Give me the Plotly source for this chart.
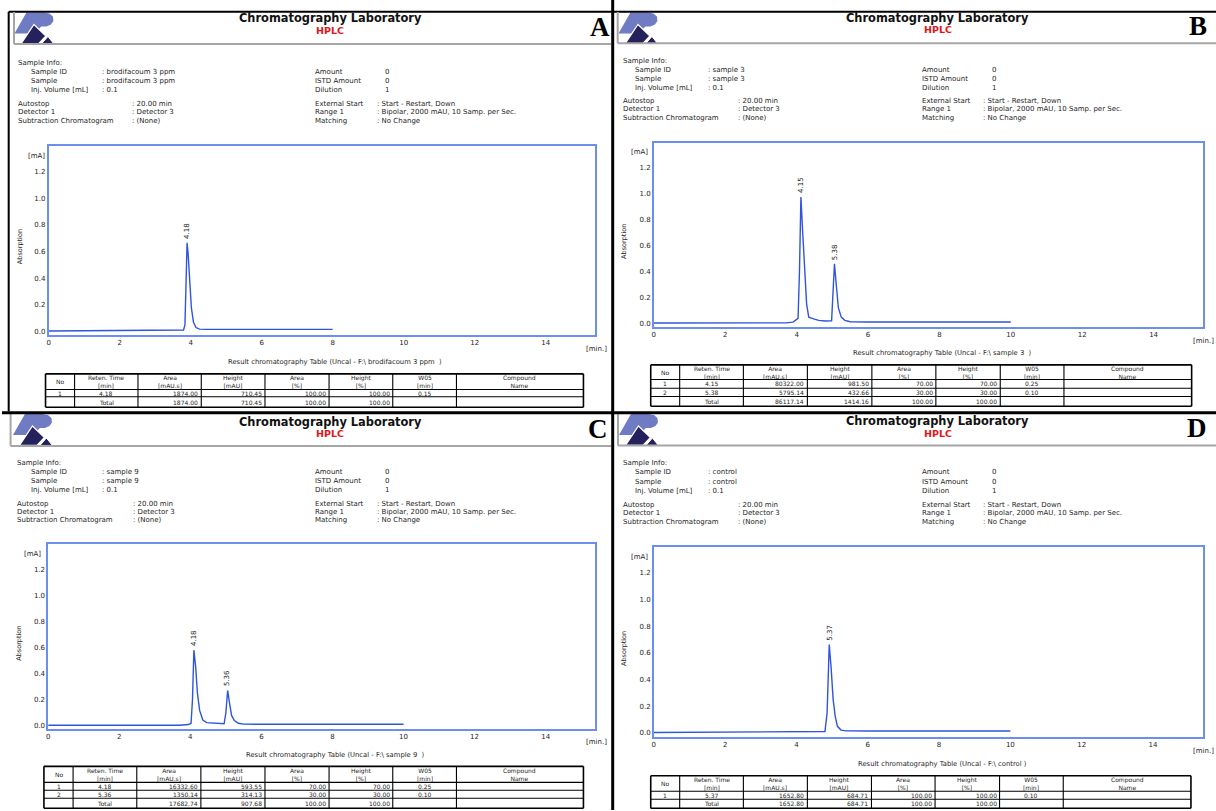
import plotly.graph_objects as go

W, H = 1216, 811
FONT = "DejaVu Sans"
SERIF = "Liberation Serif"
FRAME = "#6b8ef0"
TRACE = "#2f54dd"
GRAY = "#a6a6a6"
INK = "#1e1e1e"

# ---------------- chromatograms: time [min] / absorption [mA] ----------------
A_time = [0.0, 2.0, 3.5, 3.80, 3.84, 3.87, 3.90, 3.93, 3.97, 4.02, 4.08, 4.15, 4.25, 4.40, 6.0, 8.0]
A_abs = [0.004, 0.006, 0.008, 0.012, 0.05, 0.40, 0.665, 0.58, 0.38, 0.18, 0.07, 0.03, 0.018, 0.016, 0.016, 0.016]

B_time = [0.0, 2.0, 3.7, 3.9, 3.98, 4.04, 4.08, 4.12, 4.17, 4.22, 4.28, 4.34, 4.42, 4.5, 4.62, 4.8,
          4.98, 5.02, 5.06, 5.11, 5.17, 5.25, 5.35, 5.5, 6.0, 10.0]
B_abs = [0.005, 0.005, 0.006, 0.012, 0.03, 0.04, 0.40, 0.97, 0.70, 0.40, 0.15, 0.05, 0.045, 0.035, 0.025, 0.02,
         0.022, 0.20, 0.459, 0.30, 0.12, 0.05, 0.025, 0.015, 0.013, 0.013]

C_time = [0.0, 2.0, 3.7, 3.95, 4.02, 4.06, 4.10, 4.15, 4.20, 4.26, 4.35, 4.46, 4.70, 4.95,
          5.00, 5.05, 5.10, 5.16, 5.24, 5.35, 5.5, 6.0, 10.0]
C_abs = [0.004, 0.004, 0.005, 0.01, 0.02, 0.20, 0.58, 0.45, 0.25, 0.12, 0.045, 0.025, 0.018, 0.016,
         0.10, 0.271, 0.18, 0.08, 0.04, 0.02, 0.013, 0.012, 0.012]

D_time = [0.0, 2.0, 4.5, 4.8, 4.86, 4.92, 4.97, 5.03, 5.09, 5.15, 5.25, 5.4, 6.0, 10.0]
D_abs = [0.004, 0.005, 0.007, 0.012, 0.15, 0.662, 0.50, 0.25, 0.12, 0.05, 0.022, 0.016, 0.015, 0.015]

# peak apexes (where the retention-time labels sit)
A_peak_time, A_peak_abs = [3.90], [0.665]
B_peak_time, B_peak_abs = [4.12, 5.06], [0.97, 0.459]
C_peak_time, C_peak_abs = [4.10, 5.05], [0.58, 0.271]
D_peak_time, D_peak_abs = [4.92], [0.662]

# ---------------- result tables ----------------
HEADERS = ["No", "Reten. Time<br>[min]", "Area<br>[mAU.s]", "Height<br>[mAU]", "Area<br>[%]",
           "Height<br>[%]", "W05<br>[min]", "Compound<br>Name"]
ALIGN = ["center", "center", "right", "right", "right", "right", "center", "center"]

A_rows = [["1", "4.18", "1874.00", "710.45", "100.00", "100.00", "0.15", ""]]
A_total = ["", "Total", "1874.00", "710.45", "100.00", "100.00", "", ""]
B_rows = [["1", "4.15", "80322.00", "981.50", "70.00", "70.00", "0.25", ""],
          ["2", "5.38", "5795.14", "432.66", "30.00", "30.00", "0.10", ""]]
B_total = ["", "Total", "86117.14", "1414.16", "100.00", "100.00", "", ""]
C_rows = [["1", "4.18", "16332.60", "593.55", "70.00", "70.00", "0.25", ""],
          ["2", "5.36", "1350.14", "314.13", "30.00", "30.00", "0.10", ""]]
C_total = ["", "Total", "17682.74", "907.68", "100.00", "100.00", "", ""]
D_rows = [["1", "5.37", "1652.80", "684.71", "100.00", "100.00", "0.10", ""]]
D_total = ["", "Total", "1652.80", "684.71", "100.00", "100.00", "", ""]

# ---------------- sample info ----------------
A_sample = "brodifacoum 3 ppm"
B_sample = "sample 3"
C_sample = "sample 9"
D_sample = "control"

INFO_L1 = ["Sample ID", "Sample", "Inj. Volume [mL]"]
INFO_L2 = ["Autostop", "Detector 1", "Subtraction Chromatogram"]
INFO_L2_VAL = [": 20.00 min", ": Detector 3", ": (None)"]
INFO_R1 = ["Amount", "ISTD Amount", "Dilution"]
INFO_R1_VAL = ["0", "0", "1"]
INFO_R2 = ["External Start", "Range 1", "Matching"]
INFO_R2_VAL = [": Start - Restart, Down", ": Bipolar, 2000 mAU, 10 Samp. per Sec.", ": No Change"]

# ---------------- panel geometry (pixels) ----------------
PANELS = [
    dict(key="A", time=A_time, ab=A_abs, pt=A_peak_time, pa=A_peak_abs, rows=A_rows, total=A_total,
         sample=A_sample, letter=(599, 27), tx=329, ty=18.5, hy=30.5, logo=(12, 12),
         ix=(15.5, 28, 99, 129.5, 312.4, 382.4, 374.6), iy=[62.7, 72, 81, 90, 104, 112, 121],
         frame=(46.7, 594, 145.7, 335.7), yr=(-0.028, 1.394), mA=(35, 155.7), absn=(17.5, 247),
         minl=(595, 349), tt=(333.8, 362.7),
         tc=[43.6, 72.7, 136.2, 199.6, 263.4, 327.6, 391.4, 455.2, 582.4], tr=[374.3, 390, 397.3, 407.7]),
    dict(key="B", time=B_time, ab=B_abs, pt=B_peak_time, pa=B_peak_abs, rows=B_rows, total=B_total,
         sample=B_sample, letter=(1198, 26.5), tx=937.3, ty=18.3, hy=29.6, logo=(617, 12),
         ix=(621.5, 633, 706.6, 736.3, 920.3, 990.6, 982), iy=[61, 70, 79, 88, 101, 109, 118],
         frame=(652.9, 1203.2, 143, 327.7), yr=(-0.028, 1.386), mA=(639, 152), absn=(623.5, 241.7),
         minl=(1203.2, 341), tt=(941.6, 353.7),
         tc=[649.8, 678.8, 742.6, 806.7, 871.3, 935.4, 999.9, 1063.7, 1191.6], tr=[365.3, 380, 388.7, 397, 406.7]),
    dict(key="C", time=C_time, ab=C_abs, pt=C_peak_time, pa=C_peak_abs, rows=C_rows, total=C_total,
         sample=C_sample, letter=(597, 429.5), tx=329, ty=422.3, hy=434, logo=(10.5, 414),
         ix=(14.3, 28, 99, 130.3, 312.4, 383, 374.6), iy=[463.3, 472.3, 481.3, 490.7, 505, 513, 521],
         frame=(46.3, 594, 545, 730), yr=(-0.025, 1.391), mA=(30.4, 555), absn=(16.3, 644.3),
         minl=(595, 742.7), tt=(333.8, 756.3),
         tc=[42, 71.2, 135, 199.2, 263.4, 327.6, 391.4, 455.2, 582.4], tr=[767.3, 783.3, 791.3, 799.3, 809.3]),
    dict(key="D", time=D_time, ab=D_abs, pt=D_peak_time, pa=D_peak_abs, rows=D_rows, total=D_total,
         sample=D_sample, letter=(1197.4, 428.5), tx=937.3, ty=421.3, hy=434, logo=(617.5, 414),
         ix=(621.5, 633, 706.6, 736.3, 920.3, 990.6, 982), iy=[463.3, 473, 482.7, 491.7, 506, 514, 522.7],
         frame=(652.9, 1202.5, 547.7, 737.7), yr=(-0.028, 1.391), mA=(639, 557.3), absn=(623.5, 649.3),
         minl=(1203.2, 751.7), tt=(941.6, 765),
         tc=[649.8, 678.8, 742.6, 806.7, 870.9, 934.6, 999.2, 1063, 1190.9], tr=[776.7, 792.3, 800.3, 809.3]),
]

annotations = []
shapes = []


def ann(x, y, s, size=7, xa="left", ya="middle", color=INK, family=FONT, angle=0):
    annotations.append(dict(x=x / W, y=1 - y / H, xref="paper", yref="paper", text=s, showarrow=False,
                            xanchor=xa, yanchor=ya, textangle=angle, borderpad=0,
                            font=dict(size=size, color=color, family=family)))


def line(x0, y0, x1, y1, color="black", width=1.0):
    shapes.append(dict(type="line", xref="paper", yref="paper", x0=x0 / W, y0=1 - y0 / H,
                       x1=x1 / W, y1=1 - y1 / H, line=dict(color=color, width=width)))


def poly(pts, ox, oy, fill, outline=None, lw=0):
    path = "M " + " L ".join(f"{(ox + px) / W:.5f},{1 - (oy + py) / H:.5f}" for px, py in pts) + " Z"
    shapes.append(dict(type="path", xref="paper", yref="paper", path=path, fillcolor=fill,
                       line=dict(color=outline or fill, width=lw)))


LOGO_LIGHT = [(0.5, 21.5), (12.5, 0.5), (30, 0.5), (35.5, 1.5), (39, 4.5), (39.5, 9), (37, 12.5),
              (32.5, 14.5), (27.5, 14.5), (20, 21.5)]
LOGO_DARK1 = [(7, 32), (20, 12.5), (32, 24), (24.5, 32)]
LOGO_DARK2 = [(27.5, 32), (34, 24.5), (40, 32)]

fig = go.Figure()

for n, p in enumerate(PANELS, start=1):
    xs = "" if n == 1 else str(n)
    x0, x1, ytop, ybot = p["frame"]
    fig.add_trace(go.Scatter(x=p["time"], y=p["ab"], mode="lines", line=dict(color=TRACE, width=1.4),
                             xaxis="x" + xs, yaxis="y" + xs, showlegend=False, hoverinfo="skip"))
    axcommon = dict(showline=True, mirror=True, linecolor=FRAME, linewidth=1.5, showgrid=False,
                    zeroline=False, ticks="", fixedrange=True,
                    tickfont=dict(size=7, family=FONT, color=INK))
    fig.layout["xaxis" + xs] = dict(domain=[x0 / W, x1 / W], range=[0, 15.39], dtick=2, tick0=0,
                                   anchor="y" + xs, **axcommon)
    fig.layout["yaxis" + xs] = dict(domain=[1 - ybot / H, 1 - ytop / H], range=list(p["yr"]), dtick=0.2,
                                   tick0=0, tickformat=".1f", anchor="x" + xs, **axcommon)
    # peak retention-time labels
    for t, a, row in zip(p["pt"], p["pa"], p["rows"]):
        annotations.append(dict(x=t, y=a, xref="x" + xs, yref="y" + xs, text=row[1], showarrow=False,
                                textangle=-90, xanchor="center", yanchor="bottom", yshift=2,
                                font=dict(size=7, family=FONT, color=INK)))

    # header
    ann(p["tx"], p["ty"], "<b>Chromatography Laboratory</b>", size=11.4, xa="center", color="#111")
    ann(p["tx"], p["hy"], "<b>HPLC</b>", size=9.5, xa="center", color="#e41414")
    ann(p["letter"][0], p["letter"][1], "<b>" + p["key"] + "</b>", size=27, xa="center", color="black",
        family=SERIF)
    lx, ly = p["logo"]
    poly(LOGO_LIGHT, lx, ly, "#6f7cc4")
    poly(LOGO_DARK1, lx, ly, "#24215c", "white", 1.2)
    poly(LOGO_DARK2, lx, ly, "#24215c", "white", 1.0)

    # sample info
    ix, iy = p["ix"], p["iy"]
    ann(ix[0], iy[0], "Sample Info:")
    for k in range(3):
        ann(ix[1], iy[1 + k], INFO_L1[k])
        ann(ix[2], iy[1 + k], [": " + p["sample"], ": " + p["sample"], ": 0.1"][k])
        ann(ix[0], iy[4 + k], INFO_L2[k])
        ann(ix[3], iy[4 + k], INFO_L2_VAL[k])
        ann(ix[4], iy[1 + k], INFO_R1[k])
        ann(ix[5], iy[1 + k], INFO_R1_VAL[k])
        ann(ix[4], iy[4 + k], INFO_R2[k])
        ann(ix[6], iy[4 + k], INFO_R2_VAL[k])

    # axis decorations
    ann(p["mA"][0], p["mA"][1], "[mA]", size=7, xa="center")
    ann(p["absn"][0], p["absn"][1], "Absorption", size=6.5, xa="center", angle=-90)
    ann(p["minl"][0], p["minl"][1], "[min.]", size=7, xa="center")
    name = p["sample"]
    tail = "  )" if p["key"] != "D" else " )"
    ann(p["tt"][0], p["tt"][1], "Result chromatography Table (Uncal - F:\\ " + name + tail, size=6.8,
        xa="center")

    # table
    tc, tr = p["tc"], p["tr"]
    for i, xc in enumerate(tc):
        line(xc, tr[0], xc, tr[-1], "black", 1.6 if i in (0, len(tc) - 1) else 1.1)
    for j, yv in enumerate(tr):
        line(tc[0], yv, tc[-1], yv, "black", 1.6 if j in (0, len(tr) - 1) else 1.1)
    for i, hd in enumerate(HEADERS):
        ann((tc[i] + tc[i + 1]) / 2, (tr[0] + tr[1]) / 2, hd, size=6, xa="center")
    for r, row in enumerate(p["rows"] + [p["total"]]):
        yc = (tr[r + 1] + tr[r + 2]) / 2
        for i, val in enumerate(row):
            if not val:
                continue
            if ALIGN[i] == "right":
                ann(tc[i + 1] - 2, yc, val, size=6, xa="right")
            else:
                ann((tc[i] + tc[i + 1]) / 2, yc, val, size=6, xa="center")

# panel borders and header boxes
line(6.7, 11.7, 611, 11.7, "black", 2)
line(6.7, 11.7, 6.7, 412, "black", 2)
line(12, 12, 12, 44, GRAY, 2)
line(12, 44, 610, 44, GRAY, 2)
line(611, 11.7, 1216, 11.7, "black", 2)
line(616.7, 12, 616.7, 43.3, GRAY, 2)
line(616.7, 43.3, 1216, 43.3, GRAY, 2)
line(8.6, 414, 8.6, 446.5, GRAY, 2)
line(8.6, 446.5, 610, 446.5, GRAY, 2)
line(617, 414, 617, 446, GRAY, 2)
line(617, 446, 1216, 446, GRAY, 2)
line(611.7, 0, 611.7, 811, "black", 3)
line(0, 413.3, 1216, 413.3, "black", 3)

fig.update_layout(width=W, height=H, margin=dict(l=0, r=0, t=0, b=0), paper_bgcolor="white",
                  plot_bgcolor="white", showlegend=False, annotations=annotations, shapes=shapes,
                  font=dict(family=FONT, color=INK))

fig.write_html("out.html", config={"displayModeBar": False},
               post_script="document.body.style.margin='0';document.body.style.overflow='hidden';")
